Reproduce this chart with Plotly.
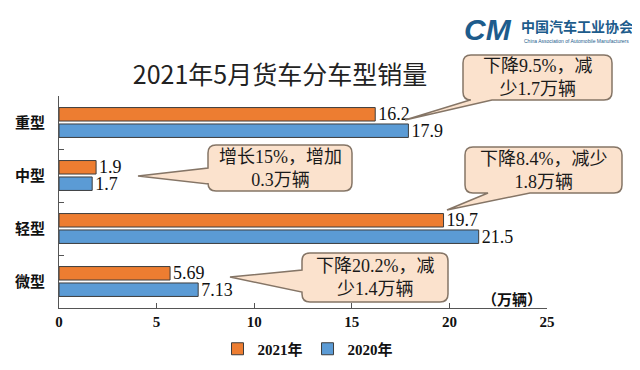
import plotly.graph_objects as go

categories = ["重型", "中型", "轻型", "微型"]
sales_2021 = [16.2, 1.9, 19.7, 5.69]
sales_2020 = [17.9, 1.7, 21.5, 7.13]
labels_2021 = ["16.2", "1.9", "19.7", "5.69"]
labels_2020 = ["17.9", "1.7", "21.5", "7.13"]
x_ticks = [0, 5, 10, 15, 20, 25]
callout_texts = [
    "下降9.5%，减<br>少1.7万辆",
    "增长15%，增加<br>0.3万辆",
    "下降8.4%，减少<br>1.8万辆",
    "下降20.2%，减<br>少1.4万辆",
]

# page body has an 8px margin; work in screen pixels and offset
OFF = 8
W, H = 640 - OFF, 370 - OFF
L, R, T, B = 59, 547, 96, 308  # plot area in screen pixels

def fx(x):
    return (x - L) / (R - L)

def fy(y):
    return (B - y) / (B - T)

SERIF = "Liberation Serif, Noto Sans CJK SC"
CJK = "Noto Sans CJK SC"

fig = go.Figure()
fig.add_trace(go.Bar(
    name="2021年", y=categories, x=sales_2021, orientation="h",
    marker=dict(color="#ED7D31", line=dict(color="#3d3d3d", width=1)),
    text=labels_2021, textposition="outside", constraintext="none",
    cliponaxis=False,
    textfont=dict(family=SERIF, size=18, color="#111"),
))
fig.add_trace(go.Bar(
    name="2020年", y=categories, x=sales_2020, orientation="h",
    marker=dict(color="#5B9BD5", line=dict(color="#3d3d3d", width=1)),
    text=labels_2020, textposition="outside", constraintext="none",
    cliponaxis=False,
    textfont=dict(family=SERIF, size=18, color="#111"),
))

def callout(box, side, base, tip, r=8):
    x0, y0, x1, y1 = box
    P = lambda x, y: f"{fx(x):.5f},{fy(y):.5f}"
    s = f"M {P(x0 + r, y0)} L {P(x1 - r, y0)} Q {P(x1, y0)} {P(x1, y0 + r)} "
    s += f"L {P(x1, y1 - r)} Q {P(x1, y1)} {P(x1 - r, y1)} "
    if side == "bottom":
        s += f"L {P(base[1], y1)} L {P(tip[0], tip[1])} L {P(base[0], y1)} "
    s += f"L {P(x0 + r, y1)} Q {P(x0, y1)} {P(x0, y1 - r)} "
    if side == "left":
        s += f"L {P(x0, base[1])} L {P(tip[0], tip[1])} L {P(x0, base[0])} "
    s += f"L {P(x0, y0 + r)} Q {P(x0, y0)} {P(x0 + r, y0)} Z"
    return s

callouts = [
    ((463, 55, 612, 100), "bottom", (470, 492), (405, 120)),
    ((208, 145, 352, 191), "left", (168, 184), (138, 176)),
    ((465, 147, 622, 193), "bottom", (488, 530), (447, 210)),
    ((302, 253, 448, 302), "left", (270, 292), (230, 277)),
]

shapes = []
annotations = []
for (box, side, base, tip), txt in zip(callouts, callout_texts):
    shapes.append(dict(
        type="path", xref="paper", yref="paper",
        path=callout(box, side, base, tip),
        fillcolor="#FBE2CD", line=dict(color="#857566", width=1.5),
        layer="above",
    ))
    cx = (box[0] + box[2]) / 2
    cy = (box[1] + box[3]) / 2
    annotations.append(dict(
        x=fx(cx), y=fy(cy), xref="paper", yref="paper",
        xanchor="center", yanchor="middle",
        text=txt, showarrow=False, align="center",
        font=dict(family=SERIF, size=18, color="#1a1a1a"),
    ))

annotations.append(dict(
    x=fx(512), y=fy(298), xref="paper", yref="paper",
    xanchor="center", yanchor="middle",
    text="（万辆）", showarrow=False,
    font=dict(family=CJK, size=15, color="#111", weight="bold"),
))
# logo
annotations.append(dict(
    x=fx(488), y=fy(30), xref="paper", yref="paper",
    xanchor="center", yanchor="middle",
    text="<i><b>CM</b></i>", showarrow=False,
    font=dict(family="Liberation Sans", size=30, color="#1d5c8c"),
))
annotations.append(dict(
    x=fx(577), y=fy(26), xref="paper", yref="paper",
    xanchor="center", yanchor="middle",
    text="中国汽车工业协会", showarrow=False,
    font=dict(family=CJK, size=14, color="#1d5c8c", weight="bold"),
))
annotations.append(dict(
    x=fx(576), y=fy(41), xref="paper", yref="paper",
    xanchor="center", yanchor="middle",
    text="China Association of Automobile Manufacturers", showarrow=False,
    font=dict(family="Liberation Sans", size=5, color="#1d5c8c"),
))

fig.update_layout(
    width=W, height=H,
    margin=dict(l=L - OFF, r=W - (R - OFF), t=T - OFF, b=H - (B - OFF), autoexpand=False),
    paper_bgcolor="white", plot_bgcolor="white",
    barmode="group", bargap=0.38, bargroupgap=0.18,
    title=dict(
        text="2021年5月货车分车型销量",
        x=(280 - OFF) / W, xref="container", xanchor="center",
        y=1 - (75 - OFF) / H, yref="container", yanchor="middle",
        font=dict(family=CJK, size=25, color="#222"),
    ),
    xaxis=dict(
        range=[0, 25], tickvals=x_ticks, showgrid=False, zeroline=False,
        showline=True, linecolor="#555", linewidth=1, automargin=False,
        ticks="inside", ticklen=5, tickcolor="#555",
        tickfont=dict(family="Liberation Serif", size=15, color="#111", weight="bold"),
    ),
    yaxis=dict(
        categoryorder="array", categoryarray=categories, autorange="reversed",
        showgrid=False, zeroline=False, automargin=False,
        showline=True, linecolor="#555", linewidth=1,
        ticks="inside", ticklen=5, tickcolor="#555", tickson="boundaries",
        ticklabelstandoff=10,
        tickfont=dict(family=CJK, size=15, color="#111", weight="bold"),
    ),
    legend=dict(
        orientation="h", x=(308 - OFF) / W, xref="container", xanchor="center",
        y=1 - (349 - OFF) / H, yref="container", yanchor="middle",
        font=dict(family=SERIF, size=15, color="#111", weight="bold"),
        traceorder="normal", itemwidth=30,
    ),
    shapes=shapes, annotations=annotations,
)

fig.write_html("out.html")
